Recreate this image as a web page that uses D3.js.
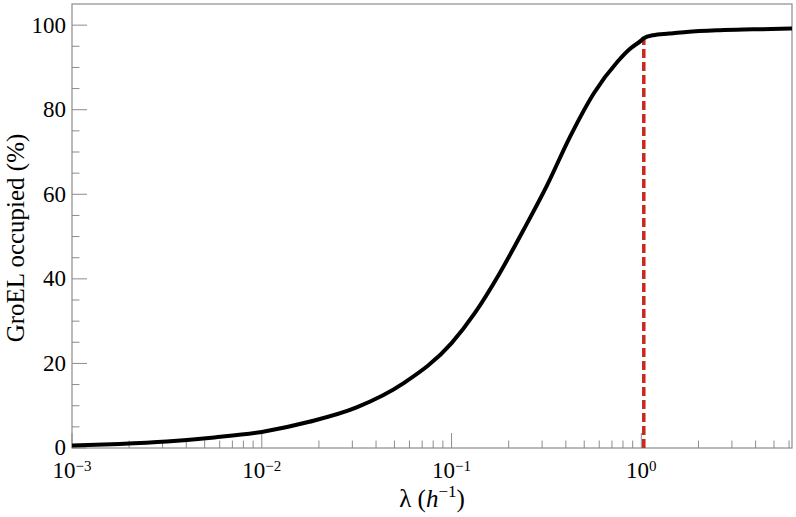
<!DOCTYPE html>
<html>
<head>
<meta charset="utf-8">
<script src="https://cdn.jsdelivr.net/npm/d3@7"></script>
<style>
  body { margin: 0; background: #fff; }
  text { font-family: "Liberation Serif", "Times New Roman", serif; fill: #000; }
</style>
</head>
<body>
<script>
(()=>{
    const width = 796;
    const height = 517;
    const marginTop = 4;
    const marginRight = 4;
    const marginBottom = 69;
    const marginLeft = 72;

    // growth rate lambda (1/h) and GroEL occupancy (%)
    const lambda = [0.001, 0.00178, 0.00316, 0.00562, 0.01, 0.0178, 0.0316, 0.0562, 0.1, 0.133,
                    0.178, 0.237, 0.316, 0.422, 0.562, 0.750, 0.866, 1.0, 1.03, 1.15,
                    1.4, 1.73, 2.59, 3.89, 6.22];
    const occupied = [0.6, 0.97, 1.55, 2.5, 3.8, 6.2, 9.6, 15.4, 24.8, 32.0,
                      41.1, 51.2, 61.8, 73.7, 83.9, 91.4, 94.3, 96.4, 96.9, 97.6,
                      98.0, 98.4, 98.8, 99.0, 99.2];
    const lambdaCritical = 1.03;

    const xDomain = [1e-3, 6.22];
    const yDomain = [0, 105];
    const xMajor = [-3, -2, -1, 0];        // exponents of 10
    const yMajor = [0, 20, 40, 60, 80, 100];
    const yMinor = d3.range(0, 101, 5);

    const data = lambda.map((l, i) => ({l: l, v: occupied[i]}));

    const x = d3.scaleLog().domain(xDomain).range([marginLeft, width - marginRight]);
    const y = d3.scaleLinear().domain(yDomain).range([height - marginBottom, marginTop]);

    const svg = d3.create("svg")
        .attr("width", width)
        .attr("height", height)
        .attr("viewBox", [0, 0, width, height]);

    const axisColor = "#8c8c8c";
    const y0 = y(0);

    // frame
    svg.append("rect")
        .attr("x", marginLeft)
        .attr("y", marginTop)
        .attr("width", width - marginRight - marginLeft)
        .attr("height", y0 - marginTop)
        .attr("fill", "none")
        .attr("stroke", axisColor)
        .attr("stroke-width", 1.2);

    // x ticks (inward)
    const xMinor = [];
    for (let e = -3; e <= 0; e++) {
        for (let k = 1; k <= 9; k++) {
            const v = k * Math.pow(10, e);
            if (v >= xDomain[0] && v <= xDomain[1]) xMinor.push({v: v, major: k === 1});
        }
    }
    svg.append("g").selectAll("line")
        .data(xMinor)
        .join("line")
        .attr("x1", d => x(d.v))
        .attr("x2", d => x(d.v))
        .attr("y1", y0)
        .attr("y2", d => y0 - (d.major ? 15 : 7.5))
        .attr("stroke", axisColor)
        .attr("stroke-width", 1);

    // y ticks (inward)
    svg.append("g").selectAll("line")
        .data(yMinor)
        .join("line")
        .attr("x1", marginLeft)
        .attr("x2", d => marginLeft + (d % 20 === 0 ? 15 : 7.5))
        .attr("y1", d => y(d))
        .attr("y2", d => y(d))
        .attr("stroke", axisColor)
        .attr("stroke-width", 1);

    // y tick labels
    svg.append("g").selectAll("text")
        .data(yMajor)
        .join("text")
        .attr("x", marginLeft - 6)
        .attr("y", d => y(d))
        .attr("dy", "0.32em")
        .attr("text-anchor", "end")
        .attr("font-size", 23)
        .text(d => d);

    // x tick labels 10^n
    const xl = svg.append("g").selectAll("text")
        .data(xMajor)
        .join("text")
        .attr("x", d => x(Math.pow(10, d)))
        .attr("y", 478)
        .attr("text-anchor", "middle")
        .attr("font-size", 23);
    xl.append("tspan").text("10");
    xl.append("tspan")
        .attr("dy", -7)
        .attr("font-size", 15)
        .text(d => d < 0 ? "\u2212" + (-d) : d);

    // axis titles
    const xt = svg.append("text")
        .attr("x", (marginLeft + width - marginRight) / 2)
        .attr("y", 507)
        .attr("text-anchor", "middle")
        .attr("font-size", 25);
    xt.append("tspan").text("\u03bb (");
    xt.append("tspan").attr("font-style", "italic").text("h");
    xt.append("tspan").attr("dy", -10).attr("font-size", 17).text("\u22121");
    xt.append("tspan").attr("dy", 10).text(")");

    svg.append("text")
        .attr("transform", "translate(24,238) rotate(-90)")
        .attr("text-anchor", "middle")
        .attr("font-size", 25)
        .text("GroEL occupied (%)");

    // critical growth rate marker
    const vc = occupied[lambda.indexOf(lambdaCritical)];
    svg.append("line")
        .attr("x1", x(lambdaCritical))
        .attr("x2", x(lambdaCritical))
        .attr("y1", y0)
        .attr("y2", y(vc))
        .attr("stroke", "#c8281e")
        .attr("stroke-width", 3.5)
        .attr("stroke-dasharray", "9,4");

    // occupancy curve
    const line = d3.line()
        .x(d => x(d.l))
        .y(d => y(d.v))
        .curve(d3.curveMonotoneX);

    svg.append("path")
        .datum(data)
        .attr("d", line)
        .attr("fill", "none")
        .attr("stroke", "#000")
        .attr("stroke-width", 4)
        .attr("stroke-linejoin", "round");

    d3.select("body").append(() => svg.node());
})()
</script>
</body>
</html>
